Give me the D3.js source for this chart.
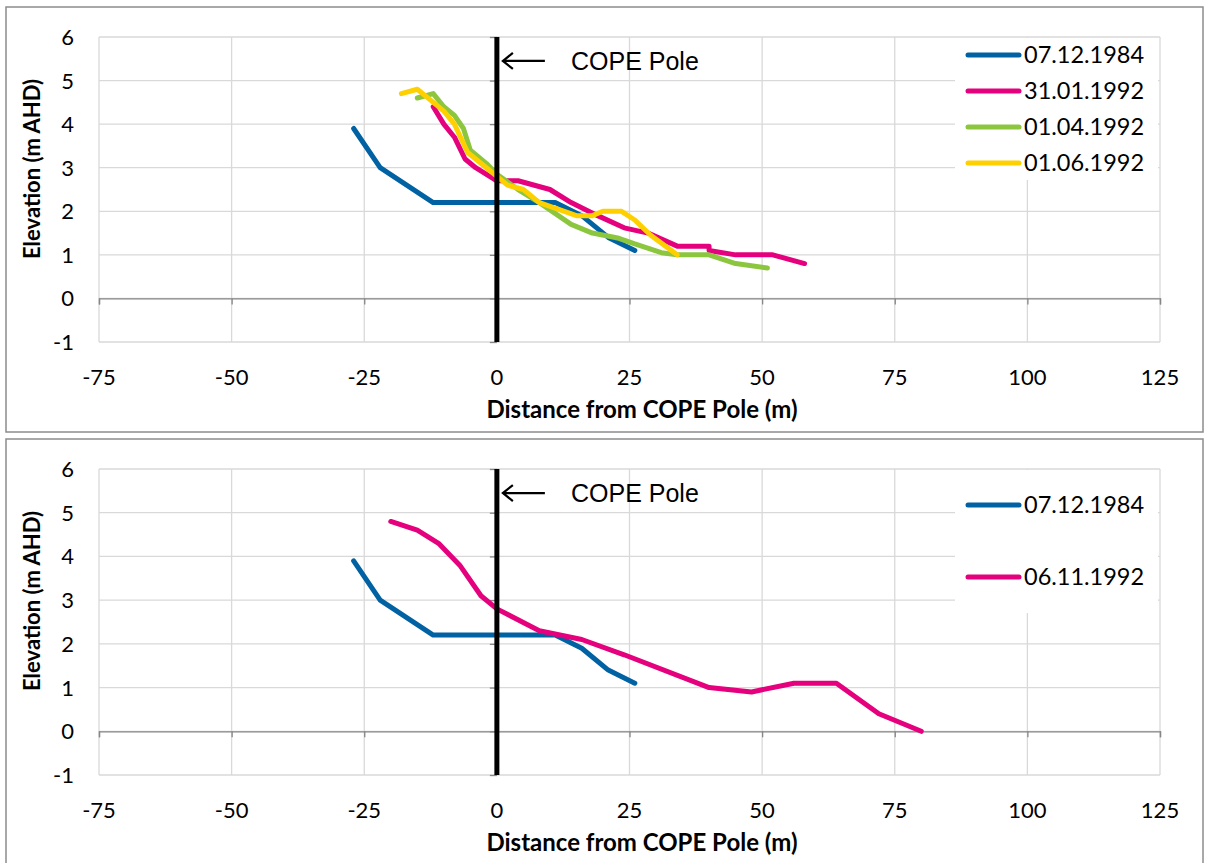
<!DOCTYPE html>
<html>
<head>
<meta charset="utf-8">
<script src="https://cdn.jsdelivr.net/npm/d3@7"></script>
<style>
  html, body { margin: 0; padding: 0; background: #fff; }
  svg { display: block; }
  .tick-label { font-family: Lato, "Open Sans", sans-serif; font-size: 22px; fill: #000; }
  .axis-title { font-family: Lato, "Open Sans", sans-serif; font-size: 24px; font-weight: bold; fill: #000; }
  .axis-title.vertical { font-size: 22px; }
  .legend-label { font-family: Lato, "Open Sans", sans-serif; font-size: 23.5px; fill: #000; }
  .pole-label { font-family: "Liberation Sans", Arial, sans-serif; font-size: 25px; fill: #000; }
</style>
</head>
<body>
<script>
// Axis ticks
const xTicks = [-75, -50, -25, 0, 25, 50, 75, 100, 125];
const yTicks = [-1, 0, 1, 2, 3, 4, 5, 6];

// Beach profiles: [distance from pole (m), elevation (m AHD)]
const profile19841207 = [[-27, 3.9], [-22, 3.0], [-12, 2.2], [11, 2.2], [16, 1.9], [21, 1.4], [26, 1.1]];
const profile19920131 = [[-12, 4.4], [-10, 4.0], [-8, 3.7], [-6, 3.2], [-4, 3.0], [0, 2.7], [4, 2.7], [10, 2.5],
  [14, 2.2], [19, 1.9], [24, 1.62], [28.5, 1.5], [34, 1.2], [40, 1.2], [40, 1.1], [45, 1.0], [52, 1.0], [58, 0.8]];
const profile19920401 = [[-15, 4.6], [-12, 4.7], [-10, 4.4], [-8, 4.2], [-6.3, 3.9], [-5, 3.4], [-2, 3.1], [0, 2.85],
  [4, 2.5], [8, 2.2], [14, 1.7], [18, 1.5], [23, 1.38], [26, 1.25], [31, 1.05], [34, 1.0], [40, 1.0], [45, 0.8], [51, 0.7]];
const profile19920601 = [[-18, 4.7], [-15, 4.8], [-12.5, 4.55], [-10, 4.3], [-8, 4.0], [-5.5, 3.35], [-2.5, 3.05], [0, 2.8],
  [2, 2.6], [5, 2.5], [8, 2.2], [15, 1.9], [18, 1.9], [20, 2.0], [23.5, 2.0], [26, 1.8], [29, 1.45], [34, 1.0]];
const profile19921106 = [[-20, 4.8], [-15, 4.6], [-11, 4.3], [-7, 3.8], [-3, 3.1], [0, 2.8], [8, 2.3], [16, 2.1],
  [24, 1.75], [40, 1.0], [48, 0.9], [56, 1.1], [64, 1.1], [72, 0.4], [80, 0.0]];

const topNames = ["07.12.1984", "31.01.1992", "01.04.1992", "01.06.1992"];
const bottomNames = ["07.12.1984", "06.11.1992"];
const colors = { "07.12.1984": "#0062A3", "31.01.1992": "#E5007D", "01.04.1992": "#8CC63F",
  "01.06.1992": "#FFD000", "06.11.1992": "#E5007D" };

const poleLabel = "COPE Pole";
const xTitle = "Distance from COPE Pole (m)";
const yTitle = "Elevation (m AHD)";

const W = 1205, H = 863;
const svg = d3.select("body").append("svg").attr("width", W).attr("height", H);

function drawPanel(panelTop, panelBottom, plotTop, plotBottom, names, seriesData, legendRows, legendBottom) {
  const g = svg.append("g");
  // panel frame
  g.append("rect").attr("x", 6).attr("y", panelTop).attr("width", 1197).attr("height", panelBottom - panelTop)
    .attr("fill", "#fff").attr("stroke", "#8c8c8c").attr("stroke-width", 1.5);

  const x = d3.scaleLinear().domain([-75, 125]).range([99, 1160]);
  const y = d3.scaleLinear().domain([-1, 6]).range([plotBottom, plotTop]);

  // gridlines
  const grid = g.append("g").attr("stroke", "#d9d9d9").attr("stroke-width", 1.3);
  yTicks.forEach(t => grid.append("line").attr("x1", x(-75)).attr("x2", x(125)).attr("y1", y(t)).attr("y2", y(t)));
  xTicks.forEach(t => grid.append("line").attr("x1", x(t)).attr("x2", x(t)).attr("y1", y(6)).attr("y2", y(-1)));

  // horizontal axis through zero with downward ticks
  const xAxis = d3.axisBottom(x).tickValues(xTicks).tickSize(6).tickFormat("");
  const xa = g.append("g").attr("transform", `translate(0,${y(0)})`).call(xAxis);
  xa.select(".domain").attr("stroke", "#868686").attr("stroke-width", 1.3);
  xa.selectAll(".tick line").attr("stroke", "#868686").attr("stroke-width", 1.3);

  // vertical axis at zero with leftward ticks
  const yAxis = d3.axisLeft(y).tickValues(yTicks).tickSize(7).tickFormat("");
  const ya = g.append("g").attr("transform", `translate(${x(0)},0)`).call(yAxis);
  ya.select(".domain").remove();
  ya.selectAll(".tick line").attr("stroke", "#868686").attr("stroke-width", 1.3);

  // tick labels
  g.append("g").selectAll("text").data(xTicks).join("text").attr("class", "tick-label")
    .attr("x", d => x(d)).attr("y", plotBottom + 43).attr("text-anchor", "middle").text(d => d);
  g.append("g").selectAll("text").data(yTicks).join("text").attr("class", "tick-label")
    .attr("x", 74).attr("y", d => y(d) + 8).attr("text-anchor", "end").text(d => d);

  // axis titles
  g.append("text").attr("class", "axis-title").attr("x", 642).attr("y", plotBottom + 76)
    .attr("text-anchor", "middle").text(xTitle);
  g.append("text").attr("class", "axis-title vertical")
    .attr("transform", `translate(40,${panelTop + 162}) rotate(-90)`)
    .attr("text-anchor", "middle").text(yTitle);

  // legend background hides the gridlines behind it
  g.append("rect").attr("x", 955).attr("y", plotTop + 1).attr("width", 203).attr("height", legendBottom - plotTop - 1)
    .attr("fill", "#fff");

  // profile lines
  const line = d3.line().x(d => x(d[0])).y(d => y(d[1]));
  names.forEach((n, i) => {
    g.append("path").datum(seriesData[i]).attr("d", line).attr("fill", "none")
      .attr("stroke", colors[n]).attr("stroke-width", 5).attr("stroke-linejoin", "round").attr("stroke-linecap", "round");
  });

  // pole marker
  g.append("line").attr("x1", x(0)).attr("x2", x(0)).attr("y1", y(6)).attr("y2", y(-1))
    .attr("stroke", "#000").attr("stroke-width", 5);
  const ay = y(5.45);
  g.append("path").attr("d", `M${x(0) + 48},${ay} L${x(0) + 6},${ay} M${x(0) + 16},${ay - 8} L${x(0) + 6},${ay} L${x(0) + 16},${ay + 8}`)
    .attr("fill", "none").attr("stroke", "#000").attr("stroke-width", 2.2);
  g.append("text").attr("class", "pole-label").attr("x", 571).attr("y", ay + 9).text(poleLabel);

  // legend entries
  names.forEach((n, i) => {
    const ly = legendRows[i];
    g.append("line").attr("x1", 968).attr("x2", 1019).attr("y1", ly).attr("y2", ly)
      .attr("stroke", colors[n]).attr("stroke-width", 5).attr("stroke-linecap", "round");
    g.append("text").attr("class", "legend-label").attr("x", 1024).attr("y", ly + 8).text(n);
  });
}

drawPanel(7, 432, 37, 342, topNames,
  [profile19841207, profile19920131, profile19920401, profile19920601],
  [55, 91, 127, 163], 180);

drawPanel(439, 870, 469, 775, bottomNames,
  [profile19841207, profile19921106],
  [505, 577], 613);
</script>
</body>
</html>
